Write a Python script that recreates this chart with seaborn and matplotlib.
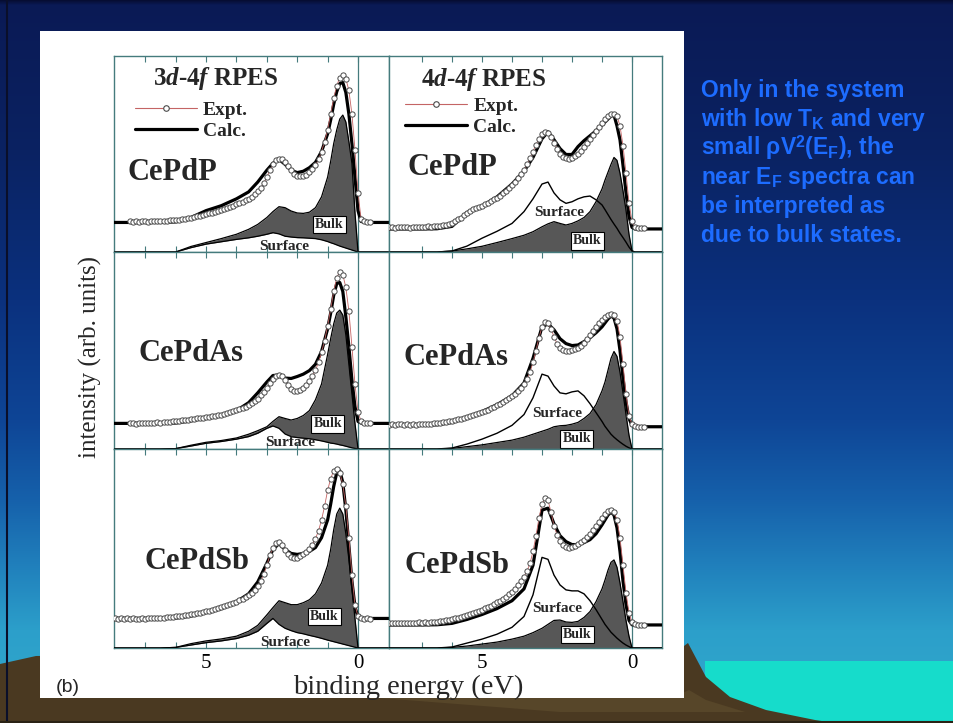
import numpy as np
import matplotlib
matplotlib.use("Agg")
import matplotlib.pyplot as plt
from matplotlib.lines import Line2D
from matplotlib.patches import Polygon, Rectangle
import seaborn as sns

sns.set_theme(style="ticks")
plt.rcParams["font.family"] = ["Liberation Serif", "DejaVu Serif"]
plt.rcParams.update({
    "mathtext.fontset": "custom",
    "mathtext.rm": "Liberation Serif:bold",
    "mathtext.it": "Liberation Serif:italic:bold",
    "mathtext.bf": "Liberation Serif:bold",
    "mathtext.sf": "Liberation Sans:bold",
})

# ---------------------------------------------------------------- data
# binding energy (eV) for the calculated curves and their components
energy = [8.2, 7.0, 6.5, 6.0, 5.5, 5.0, 4.5, 4.0, 3.6, 3.3, 3.0, 2.8, 2.6, 2.4,
          2.2, 2.0, 1.8, 1.6, 1.4, 1.2, 1.0, 0.9, 0.8, 0.7, 0.6, 0.5, 0.4,
          0.3, 0.2, 0.1, 0.0, -0.1, -0.3, -1.1]
# binding energy (eV) of the measured points, 8.1 eV down to -0.4 eV
energy_expt = np.round(np.linspace(8.1, -0.4, 86), 2)
nan = float("nan")

compounds = ["CePdP", "CePdAs", "CePdSb"]
edges = ["3d-4f", "4d-4f"]

# ---- 3d-4f RPES
calc_3d_P = [15.0, 15.0, 15.0, 15.3, 17.5, 21.0, 23.5, 27.0, 30.5, 35.5, 41.5, 45.0,
             47.0, 44.5, 41.5, 40.3, 41.0, 42.8, 45.5, 51.0, 60.0, 67.0, 75.0, 81.4,
             85.5, 86.0, 81.0, 70.0, 55.0, 38.0, 21.0, 15.5, 15.0, 15.0]
surf_3d_P = [0, 0, 0, 0.0, 2.2, 4.0, 5.2, 6.4, 7.2, 8.0, 9.0, 9.8, 9.2, 8.0, 7.6,
             7.3, 7.2, 7.0, 6.8, 6.2, 5.3, 4.7, 4.2, 3.6, 3.0, 2.5, 2.0, 1.5, 1.0,
             0.5, 0.0, 0, 0, 0]
bulk_3d_P = [0, 0, 0, 0.0, 0.6, 0.8, 1.6, 2.6, 4.3, 6.0, 8.5, 10.7, 13.8, 14.5,
             13.2, 12.5, 12.4, 13.2, 15.7, 21.8, 32.7, 41.3, 50.8, 58.4, 64.5, 67.0,
             64.0, 54.5, 44.0, 19.5, 0.0, 0, 0, 0]
expt_3d_P = [nan, nan, nan, nan, nan, nan,
             15.5, 15.3, 15.6, 15.4, 15.5, 15.7, 15.4, 15.6, 15.5, 15.8, 15.6, 15.7,
             15.9, 16.0, 16.1, 16.3, 16.4, 16.6, 16.9, 17.1,
             17.4, 17.8, 18.1, 18.5, 18.8, 19.2, 19.6, 20.0, 20.5, 21.0, 21.5, 22.0,
             22.5, 23.0, 23.6, 24.2,
             24.8, 25.5, 26.2, 27.0, 28.0, 29.3, 30.8, 32.6, 35.0, 38.0,
             41.5, 44.5, 46.5, 47.3, 47.0, 45.8, 43.8, 41.5, 39.8, 38.8,
             38.5, 38.6, 39.3, 40.5, 42.0, 44.0, 47.0, 51.0, 56.0, 62.0,
             70.0, 78.0, 84.5, 88.5, 89.8, 88.0, 82.0, 70.0, 52.0, 30.0,
             17.0, 15.5, 15.2, 15.3]

calc_3d_As = [13.0, 13.0, 13.0, 13.2, 14.3, 15.8, 17.2, 19.5, 23.5, 28.5, 34.0, 37.3,
              37.5, 36.0, 35.8, 36.8, 38.0, 39.8, 43.0, 49.5, 61.0, 69.0, 78.0, 84.0,
              84.5, 80.0, 67.0, 52.0, 35.0, 21.5, 14.0, 13.2, 13.0, 13.0]
surf_3d_As = [0, 0, 0, 0.2, 1.5, 2.9, 3.8, 5.0, 6.3, 8.0, 10.5, 11.7, 10.5, 7.6, 6.3,
              5.8, 5.5, 5.2, 4.7, 4.1, 3.4, 3.0, 2.8, 2.5, 2.1, 1.8, 1.4, 1.0, 0.6,
              0.3, 0.0, 0, 0, 0]
bulk_3d_As = [0, 0, 0, 0.0, 0.4, 0.5, 0.5, 0.6, 1.2, 1.3, 0.8, 2.3, 5.9, 7.9, 8.4,
              9.7, 11.5, 14.3, 20.3, 28.9, 44.6, 53.0, 60.7, 66.5, 68.4, 66.2, 56.6,
              42.0, 27.4, 12.7, 0.0, 0, 0, 0]
expt_3d_As = [nan, nan, nan, nan, nan, nan,
              13.0, 13.2, 12.9, 13.1, 13.3, 13.0, 13.2, 13.4, 13.3, 13.5, 13.4, 13.6,
              13.7, 13.9, 14.0, 14.2, 14.4, 14.5, 14.7, 14.9,
              15.1, 15.3, 15.5, 15.7, 15.9, 16.1, 16.3, 16.6, 16.9, 17.2, 17.5, 17.9,
              18.3, 18.7, 19.2, 19.7,
              20.2, 20.8, 21.5, 22.3, 23.2, 24.3, 25.6, 27.2, 29.0, 31.2,
              33.5, 35.5, 37.0, 37.6, 37.0, 35.0, 32.5, 30.5, 29.3, 29.2,
              29.8, 31.0, 32.5, 34.5, 37.0, 40.0, 44.0, 49.0, 55.0, 62.5,
              71.0, 80.0, 87.0, 90.0, 88.5, 82.0, 70.0, 52.0, 33.0, 19.0,
              14.0, 13.2, 13.0, 13.1]

calc_3d_Sb = [15.0, 15.0, 15.0, 15.2, 16.2, 18.0, 20.0, 23.5, 27.5, 33.5, 43.0, 50.0,
              53.0, 50.0, 48.0, 47.5, 48.0, 49.0, 51.0, 56.0, 65.0, 73.0, 82.0, 89.0,
              90.0, 84.0, 70.0, 52.0, 34.0, 21.0, 15.5, 15.0, 15.0, 15.0]
surf_3d_Sb = [0, 0, 0, 0.3, 1.5, 2.7, 3.6, 4.8, 6.5, 8.5, 12.5, 15.0, 12.0, 10.0, 8.8,
              7.8, 7.2, 6.4, 5.7, 4.9, 4.0, 3.6, 3.2, 2.8, 2.4, 2.0, 1.6, 1.2, 0.8,
              0.4, 0.0, 0, 0, 0]
bulk_3d_Sb = [0, 0, 0, 0.0, 0.7, 0.9, 1.0, 1.2, 2.0, 3.0, 4.3, 5.5, 12.0, 13.0, 13.2,
              14.2, 15.8, 18.1, 21.8, 28.1, 38.0, 46.4, 56.8, 65.2, 68.6, 66.0, 56.4,
              43.8, 29.2, 14.6, 0.0, 0, 0, 0]
expt_3d_Sb = [14.9, 15.1, 14.8, 15.0, 14.9, 15.1,
              14.8, 15.0, 14.7, 14.9, 15.1, 14.8, 15.0, 15.2, 15.0, 15.3, 15.1, 15.4,
              15.5, 15.7, 15.8, 16.0, 16.2, 16.4, 16.6, 16.9,
              17.1, 17.4, 17.7, 18.0, 18.3, 18.6, 19.0, 19.4, 19.8, 20.2, 20.7, 21.2,
              21.7, 22.3, 22.9, 23.5,
              24.2, 25.0, 25.8, 26.8, 28.0, 29.5, 31.5, 34.0, 37.5, 42.0,
              47.0, 51.0, 53.5, 54.0, 52.5, 50.0, 47.5, 46.0, 45.6, 45.8,
              46.5, 47.5, 48.8, 50.5, 52.5, 55.5, 59.5, 65.0, 72.0, 80.0,
              86.0, 90.0, 91.0, 89.0, 83.0, 72.0, 56.0, 37.0, 22.0, 16.0,
              15.0, 14.8, 15.0, 14.9]

# ---- 4d-4f RPES
calc_4d_P = [11.7, 11.7, 11.8, 13.0, 20.0, 23.2, 28.0, 34.5, 41.0, 48.0, 57.5, 61.0,
             57.0, 52.5, 49.5, 49.5, 53.5, 56.5, 59.0, 61.5, 64.5, 66.0, 67.5, 69.0,
             69.5, 64.0, 56.9, 44.0, 30.0, 18.0, 12.5, 11.7, 11.7, 11.7]
surf_4d_P = [0, 0, 0, 0.5, 3.0, 7.0, 10.5, 14.5, 20.5, 27.0, 34.5, 35.5, 30.0, 26.5,
             24.7, 25.5, 27.0, 28.0, 28.4, 26.5, 23.9, 21.5, 19.0, 16.5, 14.2, 12.0,
             9.5, 7.3, 5.0, 2.5, 0.5, 0, 0, 0]
bulk_4d_P = [0, 0, 0, 0.5, 1.6, 2.9, 4.8, 6.8, 8.5, 10.3, 12.8, 14.3, 15.4, 14.5,
             13.7, 14.5, 15.8, 17.5, 20.5, 25.5, 32.0, 36.5, 40.5, 44.5, 48.0, 46.5,
             40.0, 31.0, 21.3, 9.0, 0.5, 0, 0, 0]
expt_4d_P = [12.5, 12.7, 12.4, 12.6, 12.5, 12.7,
             12.6, 12.4, 12.7, 12.5, 12.8, 12.6, 12.9, 13.0, 12.8, 13.1, 13.0, 13.3,
             13.5, 13.8, 14.2, 14.8, 15.5, 16.5, 17.5, 18.6,
             19.8, 20.8, 21.6, 22.3, 23.0, 23.6, 24.3, 25.0, 25.8, 26.7, 27.6, 28.6,
             29.8, 31.0, 32.3, 33.8,
             35.5, 37.5, 39.5, 41.8, 44.5, 47.5, 51.0, 54.5, 57.5, 60.0,
             61.0, 60.5, 58.5, 55.5, 52.5, 50.0, 48.3, 47.5, 47.3, 47.8,
             48.5, 49.8, 51.5, 53.5, 55.5, 57.5, 59.5, 61.5, 63.5, 65.5,
             67.5, 69.0, 70.0, 70.3, 69.0, 64.0, 54.0, 40.0, 25.0, 15.5,
             12.5, 12.0, 12.0, 12.1]

calc_4d_As = [12.2, 12.2, 12.3, 13.5, 16.0, 19.0, 22.5, 27.0, 33.5, 46.0, 62.0, 63.5,
              60.5, 56.0, 53.5, 52.5, 52.8, 54.5, 56.5, 59.0, 62.0, 64.0, 66.0, 67.5,
              66.5, 61.0, 50.0, 36.0, 24.0, 15.5, 12.0, 11.5, 11.3, 11.3]
surf_4d_As = [0, 0, 0, 0.5, 2.5, 5.0, 8.0, 12.0, 17.5, 26.0, 38.0, 37.0, 32.0, 28.5,
              28.0, 29.0, 29.5, 27.0, 23.0, 18.5, 14.0, 11.5, 9.5, 7.5, 6.0, 4.7,
              3.5, 2.4, 1.4, 0.6, 0.0, 0, 0, 0]
bulk_4d_As = [0, 0, 0, 0.3, 1.2, 2.1, 3.3, 4.5, 6.0, 7.5, 9.0, 10.0, 11.3, 11.8, 12.0,
              12.6, 13.5, 15.5, 18.0, 22.5, 29.5, 34.0, 40.0, 46.0, 49.5, 47.0, 39.0,
              28.5, 17.5, 7.0, 0.0, 0, 0, 0]
expt_4d_As = [12.4, 12.6, 12.3, 12.5, 12.6, 12.4,
              12.5, 12.3, 12.6, 12.4, 12.7, 12.5, 12.8, 12.6, 12.9, 13.0, 13.2, 13.4,
              13.6, 13.8, 14.0, 14.3, 14.6, 15.0, 15.4, 15.8,
              16.2, 16.7, 17.2, 17.7, 18.2, 18.8, 19.4, 20.0, 20.7, 21.4, 22.2, 23.0,
              23.8, 24.7, 25.7, 26.8,
              28.0, 29.4, 31.0, 33.0, 35.5, 39.0, 44.0, 50.0, 56.5, 62.0,
              64.5, 64.0, 61.0, 57.0, 53.5, 51.5, 50.5, 50.0, 50.0, 50.3,
              50.8, 51.5, 52.5, 54.0, 56.0, 58.0, 60.0, 62.0, 64.0, 65.5,
              67.0, 68.0, 68.5, 68.0, 65.0, 57.0, 43.0, 28.0, 17.0, 12.5,
              11.5, 11.3, 11.3, 11.4]

calc_4d_Sb = [11.7, 11.7, 11.8, 12.5, 14.5, 17.0, 20.0, 24.0, 30.0, 42.0, 70.0, 71.0,
              63.0, 57.0, 54.0, 52.5, 52.5, 53.5, 55.0, 58.0, 62.5, 65.0, 67.5, 69.0,
              67.5, 61.0, 49.0, 34.0, 22.0, 14.0, 11.8, 11.7, 11.7, 11.7]
surf_4d_Sb = [0, 0, 0, 0.5, 2.5, 4.5, 7.0, 10.5, 16.0, 27.0, 46.0, 45.0, 37.0, 32.0,
              29.5, 29.0, 29.0, 27.5, 24.0, 19.5, 14.5, 12.0, 10.0, 8.0, 6.5, 5.0,
              3.7, 2.5, 1.5, 0.7, 0.0, 0, 0, 0]
bulk_4d_Sb = [0, 0, 0, 0.3, 1.0, 2.0, 3.0, 4.5, 6.0, 7.8, 10.0, 12.0, 14.0, 14.2,
              13.2, 13.0, 13.5, 15.5, 18.5, 23.5, 30.0, 34.5, 39.5, 43.5, 44.7, 41.0,
              33.0, 23.5, 14.0, 6.0, 0.0, 0, 0, 0]
expt_4d_Sb = [12.7, 12.9, 12.6, 12.8, 12.7, 12.9,
              12.8, 12.6, 12.9, 12.7, 13.0, 12.8, 13.1, 12.9, 13.2, 13.4, 13.3, 13.6,
              13.8, 14.0, 14.3, 14.6, 15.0, 15.4, 15.8, 16.3,
              16.8, 17.3, 17.8, 18.3, 18.9, 19.5, 20.1, 20.8, 21.5, 22.3, 23.1, 24.0,
              25.0, 26.0, 27.2, 28.5,
              30.0, 31.8, 33.8, 36.2, 39.0, 43.0, 49.0, 57.0, 66.0, 73.0,
              76.0, 75.0, 69.0, 62.0, 57.5, 54.5, 52.5, 51.5, 51.0, 51.2,
              51.8, 52.6, 53.6, 55.0, 56.5, 58.0, 60.0, 62.0, 64.0, 66.0,
              68.0, 69.5, 70.0, 69.0, 65.0, 56.0, 42.0, 28.0, 18.0, 13.0,
              12.0, 11.8, 11.7, 11.8]

spectra = {
    ("3d-4f", "CePdP"): (expt_3d_P, calc_3d_P, surf_3d_P, bulk_3d_P),
    ("3d-4f", "CePdAs"): (expt_3d_As, calc_3d_As, surf_3d_As, bulk_3d_As),
    ("3d-4f", "CePdSb"): (expt_3d_Sb, calc_3d_Sb, surf_3d_Sb, bulk_3d_Sb),
    ("4d-4f", "CePdP"): (expt_4d_P, calc_4d_P, surf_4d_P, bulk_4d_P),
    ("4d-4f", "CePdAs"): (expt_4d_As, calc_4d_As, surf_4d_As, bulk_4d_As),
    ("4d-4f", "CePdSb"): (expt_4d_Sb, calc_4d_Sb, surf_4d_Sb, bulk_4d_Sb),
}

# ---------------------------------------------------------------- styling
W, H = 954, 723
SPINE = "#457b7d"
FILL = "#575757"
EXPT_LINE = "#c46464"
EXPT_EDGE = "#4a4a4a"
TEXT_BLUE = "#1d6cff"

COL_PX = [(114, 389), (389, 662)]
COL_XLIM = [(8.03, -1.02), (8.1, -1.0)]
ROW_PX = [(56, 252), (252, 449), (449, 648)]
PX_PER_UNIT = 1.97

label_pos = {
    (0, 0): dict(name=(6.1, 40.4), bulk=(0.94, 14.0), surf=(2.42, 2.6)),
    (0, 1): dict(name=(5.98, 43.0), bulk=(1.48, 5.6), surf=(2.42, 20.0)),
    (1, 0): dict(name=(5.5, 48.5), bulk=(1.0, 12.7), surf=(2.22, 3.3)),
    (1, 1): dict(name=(5.87, 46.7), bulk=(1.84, 5.1), surf=(2.48, 17.8)),
    (2, 0): dict(name=(5.3, 44.0), bulk=(1.1, 16.2), surf=(2.38, 2.8)),
    (2, 1): dict(name=(5.83, 42.0), bulk=(1.82, 6.9), surf=(2.5, 20.0)),
}
titles = {0: ("3$\\mathit{d}$-4$\\mathit{f}$ RPES", (4.67, 88.0)),
          1: ("4$\\mathit{d}$-4$\\mathit{f}$ RPES", (4.93, 87.6))}
legend_anchor = {0: (0.076, 0.77), 1: (0.059, 0.79)}

fig = plt.figure(figsize=(W / 100, H / 100), dpi=100)

# ---------------------------------------------------------------- slide backdrop
bg = fig.add_axes([0, 0, 1, 1])
bg.set_xlim(0, W)
bg.set_ylim(H, 0)
bg.axis("off")
stop_y = [0, 5, 150, 300, 420, 500, 570, 630, 723]
stop_c = ["#060c30", "#0a1a55", "#0a2262", "#0b317e", "#0e4596", "#1661ab",
          "#2182bd", "#2c9fca", "#32aacd"]
rgb = np.array([matplotlib.colors.to_rgb(c) for c in stop_c])
yy = np.arange(H) + 0.5
grad = np.stack([np.interp(yy, stop_y, rgb[:, k]) for k in range(3)], axis=-1)
bg.imshow(grad[:, None, :], extent=(0, W, H, 0), aspect="auto", zorder=0)
bg.add_patch(Polygon([(705, 661), (W, 661), (W, H), (705, H)], closed=True,
                     fc="#16dccb", ec="none", zorder=1))
bg.add_patch(Polygon([(0, 664), (36, 656), (684, 646), (688, 643), (706, 677),
                      (730, 697), (766, 710), (815, 720), (835, H), (0, H)],
                     closed=True, fc="#4a3921", ec="none", zorder=2))
bg.add_patch(Polygon([(380, 698), (672, 698), (689, 690), (706, 700), (745, 712),
                      (560, 712)], closed=True, fc="#574629", ec="none", zorder=2.5))
bg.add_patch(Rectangle((40, 31), 644, 667, fc="white", ec="none", zorder=3))
bg.plot([7, 7], [0, H], color="#0a0f2a", lw=1.5, zorder=4)
bg.plot([0, W], [721.5, 721.5], color="#2a2214", lw=1.5, zorder=4)

note = ["Only in the system",
        "with low T$_{\\mathsf{K}}$ and very",
        "small \u03c1V$^{\\mathsf{2}}$(E$_{\\mathsf{F}}$), the",
        "near E$_{\\mathsf{F}}$ spectra can",
        "be interpreted as",
        "due to bulk states."]
for i, line in enumerate(note):
    bg.text(701, 97 + 29 * i, line, family="Liberation Sans", weight="bold",
            fontsize=16.5, color=TEXT_BLUE, ha="left", va="baseline", zorder=5)

# ---------------------------------------------------------------- spectra panels
for r, comp in enumerate(compounds):
    for c, edge in enumerate(edges):
        top, bot = ROW_PX[r]
        x0, x1 = COL_PX[c]
        ax = fig.add_axes([x0 / W, 1 - bot / H, (x1 - x0) / W, (bot - top) / H])
        ax.set_facecolor("white")
        expt, calc, surf, bulk = (np.asarray(a, float) for a in spectra[(edge, comp)])
        en = np.asarray(energy)

        if c == 0:
            upper = surf + bulk
            ax.fill_between(en, surf, upper, color=FILL, lw=0, zorder=2)
            sns.lineplot(x=en, y=upper, ax=ax, color="black", lw=0.9,
                         estimator=None, sort=False, zorder=3)
            sns.lineplot(x=en, y=surf, ax=ax, color="black", lw=0.9,
                         estimator=None, sort=False, zorder=3)
        else:
            ax.fill_between(en, 0, bulk, color=FILL, lw=0, zorder=2)
            sns.lineplot(x=en, y=bulk, ax=ax, color="black", lw=0.9,
                         estimator=None, sort=False, zorder=3)
            sns.lineplot(x=en, y=surf, ax=ax, color="black", lw=1.0,
                         estimator=None, sort=False, zorder=3)

        sns.lineplot(x=en, y=calc, ax=ax, color="black", lw=2.3,
                     estimator=None, sort=False, zorder=4)
        sns.lineplot(x=energy_expt, y=expt, ax=ax, color=EXPT_LINE, lw=0.6,
                     marker="o", markersize=3.8, markerfacecolor="white",
                     markeredgecolor=EXPT_EDGE, markeredgewidth=0.7,
                     estimator=None, sort=False, zorder=5)

        ax.axvline(0, color=SPINE, lw=0.9, zorder=1)
        ax.set_xlim(*COL_XLIM[c])
        ax.set_ylim(0, (bot - top) / PX_PER_UNIT)
        ax.set_yticks([])
        ax.set_xticks([5, 0])
        ax.set_xticks([7, 6, 4, 3, 2, 1], minor=True)
        ax.tick_params(which="both", direction="in", length=4, width=0.8,
                       color=SPINE, top=True, bottom=True, left=False, right=False,
                       labelbottom=(r == 2), labelsize=15, pad=4, labelcolor="black")
        ax.set_xlabel("")
        ax.set_ylabel("")
        for sp in ax.spines.values():
            sp.set_color(SPINE)
            sp.set_linewidth(1.0)

        pos = label_pos[(r, c)]
        ax.text(*pos["name"], comp, ha="center", va="center", fontsize=22,
                fontweight="bold", zorder=6)
        ax.text(*pos["bulk"], "Bulk", ha="center", va="center", fontsize=10,
                fontweight="bold", zorder=6,
                bbox=dict(boxstyle="square,pad=0.15", fc="white", ec="black", lw=0.8))
        ax.text(*pos["surf"], "Surface", ha="center", va="center", fontsize=11,
                fontweight="bold", zorder=6)

        if r == 0:
            title, tpos = titles[c]
            ax.text(*tpos, title, ha="center", va="center", fontsize=18,
                    fontweight="bold", zorder=6)
            handles = [Line2D([], [], color=EXPT_LINE, lw=0.8, marker="o",
                              markersize=4, markerfacecolor="white",
                              markeredgecolor=EXPT_EDGE, markeredgewidth=0.8),
                       Line2D([], [], color="black", lw=2.3)]
            ax.legend(handles, ["Expt.", "Calc."], loc="upper left",
                      bbox_to_anchor=legend_anchor[c], frameon=False, numpoints=1,
                      handlelength=3.2, handletextpad=0.3, borderpad=0,
                      borderaxespad=0, labelspacing=0.2,
                      prop=dict(family="Liberation Serif", weight="bold", size=14))

fig.text(408 / W, 1 - 694 / H, "binding energy (eV)", ha="center", va="baseline",
         fontsize=20.5)
fig.text(90 / W, 1 - 357 / H, "intensity (arb. units)", ha="center", va="center",
         rotation=90, fontsize=18)
fig.text(68 / W, 1 - 688 / H, "(b)", ha="center", va="center", fontsize=14,
         family="Liberation Sans")

fig.savefig("out.png", dpi=100)
